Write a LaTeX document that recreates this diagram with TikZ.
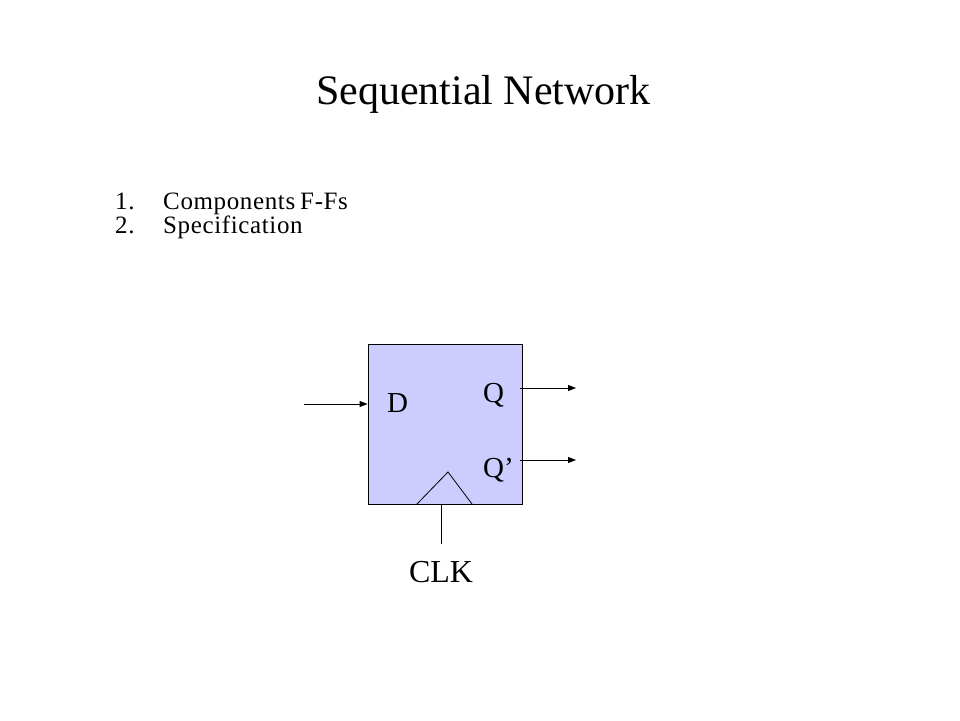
\documentclass[tikz,border=0pt]{standalone}
\usepackage{fontspec}
\setmainfont{Liberation Serif}
\newfontfamily\itemfont[LetterSpace=2.5]{Liberation Serif}
\usetikzlibrary{arrows.meta}
\definecolor{ffill}{HTML}{CCCCFF}
\tikzset{
  wire/.style={line width=1pt, draw=black},
  sig/.style={wire, -{Triangle[length=8pt,width=6pt]}},
  lbl/.style={inner sep=0pt, anchor=base west, font=\fontsize{29}{33}\selectfont},
  item/.style={inner sep=0pt, anchor=base west, font=\itemfont\fontsize{25}{26}\selectfont},
}
\begin{document}
\begin{tikzpicture}[x=1pt,y=-1pt]
\useasboundingbox[fill=white] (0,0) rectangle (960,720);
% title
\node[inner sep=0pt, anchor=base, font=\fontsize{42}{48}\selectfont] (title) at (483.5,104) {Sequential Network};
% list
\node[item] (n1) at (115,209.5) {1.};
\node[item] (i1) at (163,209.5) {Components\hspace{5pt}F-Fs};
\node[item] (n2) at (115,233.5) {2.};
\node[item] (i2) at (163,233.5) {Specification};
% flip-flop box
\node[draw=black, line width=0.8pt, fill=ffill, minimum width=154pt, minimum height=160pt, inner sep=0pt] (ff) at (445,424) {};
% clock triangle
\coordinate (tl) at (417,504);
\coordinate (ta) at (448,472);
\coordinate (tr) at (472,504);
\draw[line width=0.8pt] (tl) -- (ta) -- (tr);
% labels
\node[lbl] (D) at (387,412) {D};
\node[lbl] (Q) at (483,402) {Q};
\node[lbl] (Qb) at (483,477) {Q’};
\node[inner sep=0pt, anchor=base, font=\fontsize{32}{36}\selectfont] (clk) at (441,582) {CLK};
% connectors
\coordinate (din) at (304,404);
\coordinate (dend) at (ff.west |- din);
\draw[sig] (din) -- (dend);
\coordinate (qs) at (520,388);
\coordinate (qe) at (576,388);
\draw[sig] (qs) -- (qe);
\coordinate (qbs) at (520,460);
\coordinate (qbe) at (576,460);
\draw[sig] (qbs) -- (qbe);
\coordinate (cb) at (441,544);
\draw[wire] (ff.south -| cb) -- (cb);
\end{tikzpicture}
\end{document}
